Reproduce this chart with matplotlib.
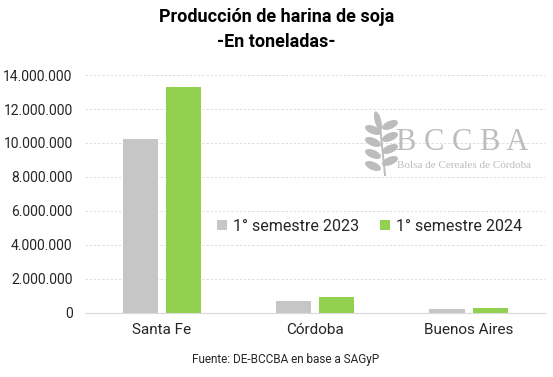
import matplotlib.pyplot as plt
import numpy as np
from matplotlib.patches import Ellipse
from matplotlib.ticker import FuncFormatter

plt.rcParams['font.family'] = ['Roboto', 'DejaVu Sans']

provincias = ['Santa Fe', 'Córdoba', 'Buenos Aires']
sem_2023 = [10250000, 700000, 240000]
sem_2024 = [13300000, 960000, 310000]
series_labels = ['1° semestre 2023', '1° semestre 2024']
y_ticks = [0, 2000000, 4000000, 6000000, 8000000, 10000000, 12000000, 14000000]

GREY = '#c6c6c6'
GREEN = '#92d050'
W, H = 553, 377


def px(x, y):
    # pixel coords (from top-left) to figure fraction
    return x / W, 1 - y / H


fig = plt.figure(figsize=(5.53, 3.77), dpi=100)
ax = fig.add_axes([0.154, 0.170, 0.832, 0.631])

x = np.arange(len(provincias))
w = 0.23
ax.bar(x - 0.141, sem_2023, width=w, color=GREY, label=series_labels[0])
ax.bar(x + 0.141, sem_2024, width=w, color=GREEN, label=series_labels[1])

ax.set_xlim(-0.5, 2.5)
ax.set_ylim(0, 14000000)
ax.set_yticks(y_ticks)
ax.yaxis.set_major_formatter(FuncFormatter(lambda v, p: f'{int(v):,}'.replace(',', '.')))
ax.set_xticks(x)
ax.set_xticklabels(provincias, fontsize=11, color='#262626')
ax.tick_params(axis='y', labelsize=10, colors='#262626', length=0, pad=9)
ax.tick_params(axis='x', length=0, pad=7)
ax.grid(axis='y', color='#d9d9d9', linestyle=(0, (3, 2)), linewidth=0.6)
ax.set_axisbelow(True)
for s in ['top', 'right', 'left']:
    ax.spines[s].set_visible(False)
ax.spines['bottom'].set_color('#d9d9d9')

ax.legend(loc='center left', bbox_to_anchor=(0.27, 0.363), ncol=2, frameon=False,
          fontsize=11.5, handlelength=0.6, handleheight=0.6, columnspacing=1.3,
          handletextpad=0.4, labelcolor='#262626', borderpad=0)

# watermark logo (wheat + text)
LOGO = '#bcbcbc'
stem_x0, stem_y0 = px(385, 175)
stem_x1, stem_y1 = px(379, 116)
fig.add_artist(plt.Line2D([stem_x0, stem_x1], [stem_y0, stem_y1], transform=fig.transFigure,
                          color=LOGO, linewidth=1.4))
leaf_rows = [130, 142, 154, 166]
for ly in leaf_rows:
    cx, cy = px(373, ly)
    fig.add_artist(Ellipse((cx, cy), 17 / W, 6 / H, angle=-38, transform=fig.transFigure,
                           color=LOGO))
    cx, cy = px(390, ly - 5)
    fig.add_artist(Ellipse((cx, cy), 17 / W, 6 / H, angle=38, transform=fig.transFigure,
                           color=LOGO))
tx, ty = px(378, 121)
fig.add_artist(Ellipse((tx, ty), 5 / W, 18 / H, angle=10, transform=fig.transFigure,
                       color=LOGO))
fig.text(*px(396, 143), 'B C C B A', fontsize=22, family='Liberation Serif', color='#bdbdbd',
         va='center', ha='left')
fig.text(*px(397, 166), 'Bolsa de Cereales de Córdoba', fontsize=8, family='Liberation Serif',
         color='#bdbdbd', va='center', ha='left')

fig.text(0.5, 1 - 17 / H, 'Producción de harina de soja', ha='center', va='center',
         fontsize=13, fontweight='bold', color='black')
fig.text(0.5, 1 - 42 / H, '-En toneladas-', ha='center', va='center',
         fontsize=13, fontweight='bold', color='black')
fig.text(*px(286, 359), 'Fuente: DE-BCCBA en base a SAGyP', ha='center', va='center',
         fontsize=8.5, color='#262626')

fig.savefig('out.png', dpi=100, facecolor='white')
